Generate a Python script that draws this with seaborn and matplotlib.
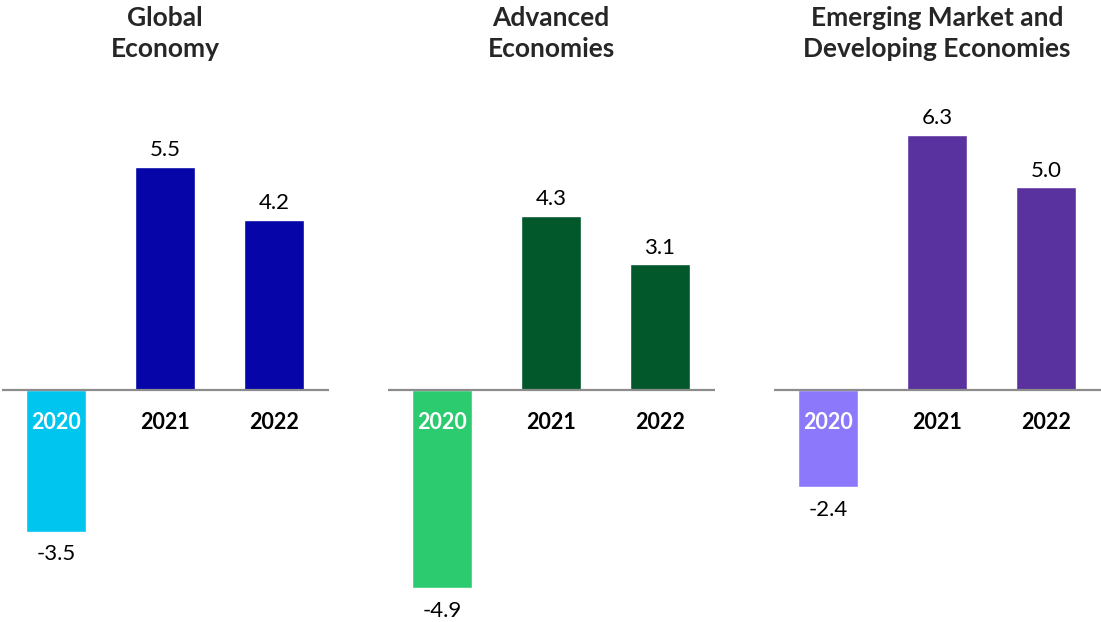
import matplotlib
matplotlib.use("Agg")
import matplotlib.pyplot as plt
import seaborn as sns
import pandas as pd

sns.set_style("white")
plt.rcParams["font.family"] = ["Lato", "DejaVu Sans"]

years = ["2020", "2021", "2022"]
panel_titles = ["Global\nEconomy", "Advanced\nEconomies", "Emerging Market and\nDeveloping Economies"]
global_growth = [-3.5, 5.5, 4.2]
advanced_growth = [-4.9, 4.3, 3.1]
emerging_growth = [-2.4, 6.3, 5.0]
panel_values = [global_growth, advanced_growth, emerging_growth]
panel_colors = [
    ["#00C5EE", "#0505A8", "#0505A8"],
    ["#2DCB70", "#02582B", "#02582B"],
    ["#8C78FA", "#5A32A0", "#5A32A0"],
]

W, H = 1101, 622
fig = plt.figure(figsize=(W / 100, H / 100), dpi=100)

ylo, yhi = -5.5, 7.0
px_per_unit = 40.5
zero_px = 390
top_px = zero_px - yhi * px_per_unit
bot_px = zero_px - ylo * px_per_unit
ax_lefts = [1.5, 387.5, 773.5]
ax_w = 327

for left, title, vals, cols in zip(ax_lefts, panel_titles, panel_values, panel_colors):
    ax = fig.add_axes([left / W, (H - bot_px) / H, ax_w / W, (bot_px - top_px) / H])
    df = pd.DataFrame({"year": years, "growth": vals})
    sns.barplot(data=df, x="year", y="growth", hue="year", palette=cols,
                width=0.55, legend=False, ax=ax, saturation=1)
    ax.set_xlim(-0.5, 2.5)
    ax.set_ylim(ylo, yhi)
    ax.axhline(0, color="#8C8C8C", lw=1.6, zorder=3)
    ax.axis("off")

    for i, (yr, v) in enumerate(zip(years, vals)):
        # value labels
        if v >= 0:
            ax.annotate(f"{v:.1f}", (i, v), xytext=(0, 5), textcoords="offset points",
                        ha="center", va="bottom", fontsize=16, color="black")
        else:
            ax.annotate(f"{v:.1f}", (i, v), xytext=(0, -9), textcoords="offset points",
                        ha="center", va="top", fontsize=16, color="black")
        # year labels just below the zero line
        ax.text(i, -0.8, yr, ha="center", va="center", fontsize=15.5,
                fontweight="bold", color="white" if v < 0 else "black", zorder=4)

    fig.text((left + ax_w / 2) / W, 1 - 6 / H, title, ha="center", va="top",
             fontsize=19, fontweight="bold", linespacing=1.37)

fig.savefig("out.png", dpi=100)
